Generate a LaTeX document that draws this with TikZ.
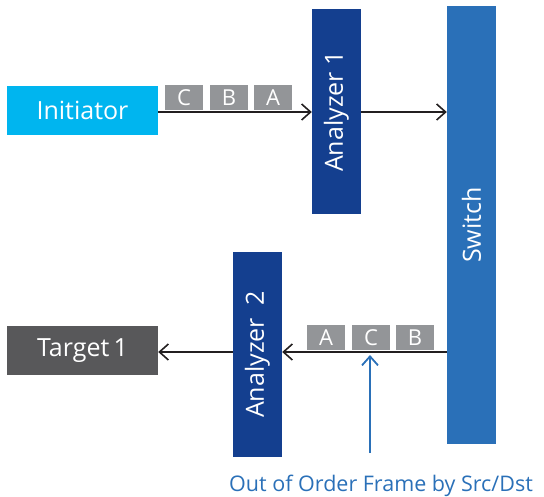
\documentclass[tikz,border=0pt]{standalone}
\usepackage{fontspec}
\setmainfont{Open Sans}
\usetikzlibrary{arrows.meta}
\definecolor{cInit}{HTML}{00B5EF}
\definecolor{cAna}{HTML}{143F8F}
\definecolor{cSw}{HTML}{2A70B8}
\definecolor{cTgt}{HTML}{58585A}
\definecolor{cFrm}{HTML}{939598}
\definecolor{cLine}{HTML}{231F20}
\begin{document}
\begin{tikzpicture}[x=1pt,y=-1pt,
  box/.style={inner sep=0pt, text=white, font=\fontsize{25}{28}\selectfont},
  hbox/.style={box, minimum width=151pt, minimum height=49pt},
  vbox/.style={box, minimum width=49pt},
  frm/.style={fill=cFrm, minimum width=38pt, minimum height=25pt, inner sep=0pt,
    text=white, font=\fontsize{22}{24}\selectfont},
  arr/.style={draw=cLine, line width=1.6pt, -{Straight Barb[length=9pt,width=16pt]}},
  bluearr/.style={draw=cSw, line width=1.8pt, -{Straight Barb[length=9pt,width=16pt]}},
  note/.style={text=cSw, inner sep=0pt, font=\fontsize{21.5}{24}\selectfont}]
\useasboundingbox (0,0) rectangle (544,496);

% main blocks
\node[hbox, fill=cInit] (init) at (82.5,110.5) {Initiator};
\node[hbox, fill=cTgt] (tgt) at (82.5,350.5) {Target\,1};
\node[vbox, fill=cAna, minimum height=205pt] (an1) at (336.5,111.5) {\rotatebox{90}{Analyzer 1}};
\node[vbox, fill=cAna, minimum height=205pt] (an2) at (257.5,354.5) {\rotatebox{90}{Analyzer\enspace 2}};
\node[vbox, fill=cSw, minimum height=438pt] (sw) at (471.5,225) {\rotatebox{90}{Switch}};

% line levels
\coordinate (toplvl) at (0,112);
\coordinate (botlvl) at (0,352);

% frames on top link
\node[frm] (fc1) at (184,97.5) {\raisebox{-1.5pt}{C}};
\node[frm] (fb1) at (229,97.5) {\raisebox{-1.5pt}{B}};
\node[frm] (fa1) at (273,97.5) {\raisebox{-1.5pt}{A}};

% frames on bottom link
\node[frm] (fa2) at (326,337.5) {\raisebox{-1.5pt}{A}};
\node[frm] (fc2) at (371,337.5) {\raisebox{-1.5pt}{C}};
\node[frm] (fb2) at (415,337.5) {\raisebox{-1.5pt}{B}};

% connectors
\draw[arr] (init.east |- toplvl) -- (an1.west |- toplvl);
\draw[arr] (an1.east |- toplvl) -- (sw.west |- toplvl);
\draw[arr] (sw.west |- botlvl) -- (an2.east |- botlvl);
\draw[arr] (an2.west |- botlvl) -- (tgt.east |- botlvl);

% out-of-order note
\node[note, anchor=base west] (oot) at (229,491) {Out of Order Frame by Src/Dst};
\coordinate (ootfoot) at (370,453);
\coordinate (ootpoint) at (370,355);
\draw[bluearr] (ootfoot) -- (ootpoint);
\end{tikzpicture}
\end{document}
